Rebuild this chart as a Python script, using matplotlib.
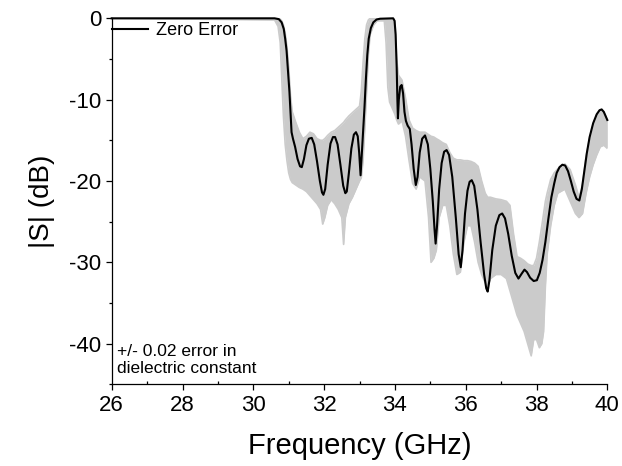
import numpy as np
import matplotlib
matplotlib.use("Agg")
import matplotlib.pyplot as plt
from matplotlib.ticker import MultipleLocator

plt.rcParams['font.family'] = ['Liberation Sans', 'DejaVu Sans']
plt.rcParams['axes.unicode_minus'] = False

# %% data (GHz, dB)
# nominal design ("Zero Error")
freq = [26.0, 30.60, 30.72, 30.80, 30.86, 30.90, 30.94, 30.98, 31.02, 31.05,
        31.08, 31.12, 31.18, 31.25, 31.32, 31.37, 31.43, 31.50, 31.57, 31.65,
        31.72, 31.80, 31.88, 31.94, 31.98, 32.03, 32.10, 32.18, 32.25, 32.31,
        32.38, 32.46, 32.54, 32.60, 32.64, 32.70, 32.77, 32.84, 32.90, 32.95,
        32.99, 33.03, 33.06, 33.10, 33.14, 33.18, 33.22, 33.26, 33.32, 33.39,
        33.48, 33.58, 33.95, 33.99, 34.02, 34.05, 34.07, 34.085, 34.11, 34.15,
        34.19, 34.23, 34.27, 34.31, 34.36, 34.42, 34.47, 34.53, 34.59, 34.64,
        34.70, 34.77, 34.85, 34.93, 35.00, 35.07, 35.12, 35.15, 35.19, 35.25,
        35.32, 35.39, 35.46, 35.53, 35.62, 35.72, 35.80, 35.86, 35.91, 35.98,
        36.05, 36.11, 36.17, 36.24, 36.33, 36.42, 36.52, 36.58, 36.62, 36.67,
        36.75, 36.85, 36.95, 37.03, 37.11, 37.20, 37.30, 37.40, 37.49, 37.58,
        37.66, 37.73, 37.82, 37.92, 38.01, 38.09, 38.17, 38.25, 38.33, 38.42,
        38.50, 38.57, 38.65, 38.73, 38.81, 38.89, 38.97, 39.05, 39.13, 39.21,
        39.28, 39.35, 39.42, 39.50, 39.60, 39.70, 39.78, 39.84, 39.90, 39.95,
        40.00]
s_zero = [0.0, 0.0, -0.1, -0.5, -1.3, -2.5, -4.0, -6.5, -9.0, -11.5,
          -14.0, -14.8, -15.8, -17.3, -18.2, -18.3, -17.3, -15.6, -14.8, -14.7,
          -15.5, -17.6, -20.0, -21.4, -21.7, -21.0, -18.0, -15.4, -14.6, -14.6,
          -15.5, -18.0, -20.6, -21.5, -21.3, -19.0, -16.0, -14.3, -14.0, -14.5,
          -16.5, -19.3, -17.0, -14.0, -11.0, -7.5, -4.5, -2.5, -1.2, -0.5,
          -0.15, -0.05, 0.0, -0.3, -2.0, -6.0, -10.0, -12.3, -10.0, -8.4,
          -8.2, -9.2, -11.5, -12.6, -13.2, -13.6, -15.5, -18.5, -20.5, -19.5,
          -16.5, -14.8, -14.4, -15.5, -18.5, -22.5, -26.0, -27.7, -25.5, -21.0,
          -17.8, -16.4, -16.2, -16.8, -19.5, -24.5, -29.0, -30.6, -28.5, -24.0,
          -21.2, -20.1, -19.9, -20.6, -23.5, -27.5, -31.5, -33.2, -33.6, -32.2,
          -28.5, -25.5, -24.2, -24.0, -24.6, -26.5, -29.2, -31.3, -32.0, -31.4,
          -30.9, -31.2, -31.9, -32.3, -32.2, -31.3, -29.7, -27.5, -24.8, -22.0,
          -20.3, -19.0, -18.3, -18.0, -18.1, -18.8, -20.0, -21.3, -22.2, -22.4,
          -21.0, -18.8, -16.6, -14.6, -12.9, -11.8, -11.3, -11.2, -11.5, -12.0,
          -12.5]

# spread of the +/- 0.02 runs: upper and lower edge of the grey band
band_f = [26.0, 30.60, 30.70, 30.76, 30.80, 30.85, 30.90, 30.95, 31.00, 31.05,
          31.10, 31.20, 31.30, 31.40, 31.50, 31.60, 31.70, 31.80, 31.90, 31.96,
          32.02, 32.10, 32.20, 32.30, 32.40, 32.50, 32.55, 32.60, 32.70, 32.80,
          32.90, 33.00, 33.05, 33.10, 33.15, 33.20, 33.25, 33.30, 33.40, 33.50,
          33.70, 33.75, 33.80, 33.85, 33.95, 34.00, 34.05, 34.10, 34.20, 34.30,
          34.40, 34.50, 34.60, 34.70, 34.85, 34.95, 35.02, 35.10, 35.17, 35.25,
          35.35, 35.45, 35.55, 35.65, 35.75, 35.85, 35.95, 36.05, 36.15, 36.25,
          36.35, 36.45, 36.55, 36.62, 36.70, 36.85, 37.00, 37.15, 37.25, 37.35,
          37.45, 37.55, 37.65, 37.75, 37.85, 37.92, 38.00, 38.08, 38.15, 38.20,
          38.25, 38.30, 38.40, 38.50, 38.60, 38.80, 38.95, 39.10, 39.20, 39.30,
          39.40, 39.50, 39.60, 39.70, 39.80, 39.90, 40.00]
band_hi = [0.0, 0.0, 0.0, -0.1, -0.3, -0.8, -1.8, -3.5, -6.0, -9.5,
           -11.5, -12.8, -14.0, -14.8, -14.5, -14.0, -14.2, -14.8, -15.0, -15.0,
           -14.8, -14.4, -14.0, -13.8, -13.4, -13.0, -12.8, -12.5, -12.0, -11.6,
           -11.2, -10.8, -9.0, -5.5, -2.5, -0.8, -0.2, 0.0, 0.0, 0.0,
           0.0, 0.0, 0.0, 0.0, 0.0, -0.4, -5.0, -7.0, -7.6, -9.8,
           -12.5, -13.5, -13.8, -14.0, -14.0, -14.3, -14.5, -14.6, -14.8, -15.0,
           -15.3, -15.5, -16.5, -17.2, -17.4, -17.4, -17.5, -17.5, -17.6, -17.8,
           -18.2, -20.0, -21.5, -22.0, -22.0, -22.2, -22.3, -22.5, -23.0, -26.5,
           -29.3, -29.5, -29.8, -30.2, -30.4, -30.4, -29.5, -27.5, -25.5, -24.0,
           -22.5, -21.5, -19.8, -19.0, -18.5, -17.9, -18.6, -20.5, -22.0, -20.5,
           -17.0, -14.8, -13.0, -11.9, -11.3, -11.5, -12.5]
band_lo = [0.0, -0.2, -1.0, -3.0, -7.0, -12.0, -15.5, -17.5, -19.0, -19.8,
           -20.2, -20.5, -20.8, -21.0, -21.3, -21.8, -22.3, -22.8, -23.5, -25.3,
           -24.5, -23.0, -22.3, -22.8, -23.5, -24.5, -27.8, -24.5, -22.8, -22.0,
           -21.0, -20.0, -19.6, -17.5, -13.5, -9.0, -4.5, -2.0, -0.8, -0.3,
           -0.3, -3.0, -8.5, -10.3, -11.3, -11.8, -12.5, -13.0, -12.6, -14.5,
           -17.5, -20.3, -21.0, -19.5, -20.0, -24.5, -30.0, -29.5, -28.5, -24.5,
           -23.0, -23.0, -25.5, -29.0, -31.5, -31.2, -27.5, -25.5, -25.5, -27.5,
           -30.0, -31.5, -32.5, -33.0, -32.0, -31.5, -31.5, -32.0, -33.5, -35.0,
           -36.5, -37.5, -38.5, -40.0, -41.5, -39.5, -39.5, -40.5, -40.0, -38.5,
           -33.0, -29.0, -25.5, -23.0, -21.5, -21.0, -22.5, -24.0, -24.5, -24.0,
           -21.5, -19.5, -18.0, -16.8, -15.8, -15.6, -16.0]

note = "+/- 0.02 error in\ndielectric constant"

# %% figure
fig = plt.figure(figsize=(6.22, 4.66), dpi=100)
ax = fig.add_axes([0.1796, 0.1753, 0.7968, 0.7854])

grey = '#cbcbcb'
ax.fill_between(band_f, band_lo, band_hi, color=grey, lw=0)
ax.plot(band_f, band_hi, color=grey, lw=1.2)
ax.plot(band_f, band_lo, color=grey, lw=1.2)
ax.plot(freq, s_zero, color='black', lw=1.5, label='Zero Error', clip_on=False)

ax.set_xlim(26, 40)
ax.set_ylim(-45, 0)
ax.xaxis.set_major_locator(MultipleLocator(2))
ax.xaxis.set_minor_locator(MultipleLocator(1))
ax.yaxis.set_major_locator(MultipleLocator(10))
ax.yaxis.set_minor_locator(MultipleLocator(5))
ax.spines['top'].set_visible(False)
ax.spines['right'].set_visible(False)
for sp in ('left', 'bottom'):
    ax.spines[sp].set_linewidth(0.9)
ax.tick_params(axis='both', which='major', direction='out', length=4.5, width=0.9,
               labelsize=16, pad=3)
ax.tick_params(axis='x', which='minor', direction='in', length=2.2, width=0.9)
ax.tick_params(axis='y', which='minor', direction='out', length=2.4, width=0.9)

ax.set_xlabel('Frequency (GHz)', fontsize=21, labelpad=12)
ax.set_ylabel('|S| (dB)', fontsize=20, labelpad=10)

ax.legend(loc='upper left', bbox_to_anchor=(0.0, 0.99), borderpad=0,
          borderaxespad=0, handlelength=2.0, handletextpad=0.45,
          frameon=False, fontsize=13)
ax.text(0.011, 0.022, note, transform=ax.transAxes, fontsize=12.5,
        ha='left', va='bottom', linespacing=1.15)

fig.savefig('out.png', dpi=100)
